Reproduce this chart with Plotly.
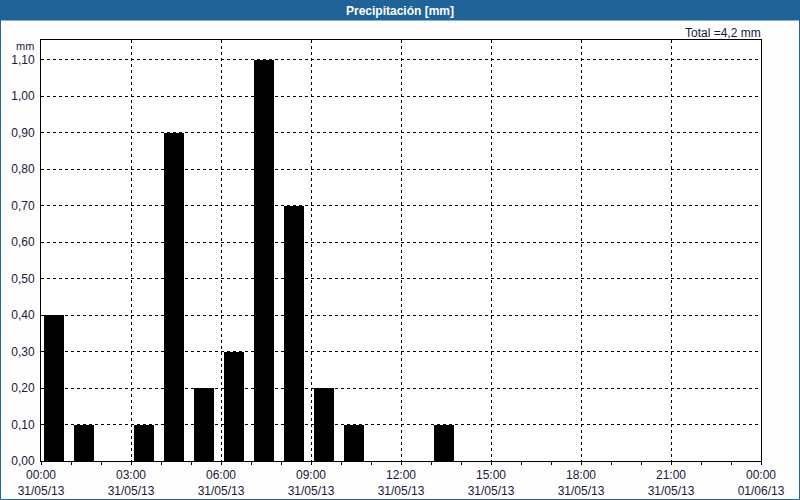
import plotly.graph_objects as go

# Data
hours = [0, 1, 3, 4, 5, 6, 7, 8, 9, 10, 13]
precip = [0.4, 0.1, 0.1, 0.9, 0.2, 0.3, 1.1, 0.7, 0.2, 0.1, 0.1]
x_tick_vals = [0, 3, 6, 9, 12, 15, 18, 21, 24]
x_tick_text = ["00:00<br>31/05/13", "03:00<br>31/05/13", "06:00<br>31/05/13",
               "09:00<br>31/05/13", "12:00<br>31/05/13", "15:00<br>31/05/13",
               "18:00<br>31/05/13", "21:00<br>31/05/13", "00:00<br>01/06/13"]
y_tick_vals = [0.0, 0.1, 0.2, 0.3, 0.4, 0.5, 0.6, 0.7, 0.8, 0.9, 1.0, 1.1]
y_tick_text = ["0,00", "0,10", "0,20", "0,30", "0,40", "0,50", "0,60",
               "0,70", "0,80", "0,90", "1,00", "1,10"]
title_text = "Precipitación [mm]"
total_text = "Total =4,2 mm"

W, H = 800, 500
ML, MR, MT, MB = 41, 39, 40, 39
PW, PH = W - ML - MR, H - MT - MB
BLUE = "#1f6399"
TXT = "#1a1a3a"
FONT = "Liberation Sans, Arial, sans-serif"

def px(x):
    return (x - ML) / PW

def py(y):
    return (H - MB - y) / PH

fig = go.Figure()
fig.add_trace(go.Bar(
    x=hours, y=precip, width=0.667, offset=0.085,
    marker=dict(color="black", line=dict(width=0)),
    hoverinfo="x+y",
))

fig.update_layout(
    width=W, height=H,
    margin=dict(l=ML, r=MR, t=MT, b=MB, autoexpand=False),
    paper_bgcolor="#fdfdfd",
    plot_bgcolor="white",
    showlegend=False,
    bargap=0,
    font=dict(family=FONT, size=11, color=TXT),
    xaxis=dict(
        range=[0, 24], tickvals=x_tick_vals, ticktext=x_tick_text,
        showgrid=True, gridcolor="black", griddash="3px,3px", gridwidth=1,
        showline=True, linecolor="black", linewidth=1, mirror=True,
        ticks="outside", ticklen=3, tickcolor="black",
        minor=dict(dtick=1, tick0=0, ticks="outside", ticklen=3,
                   tickcolor="black", showgrid=False),
        zeroline=False, fixedrange=True, automargin=False,
        tickfont=dict(family=FONT, size=12, color=TXT),
    ),
    yaxis=dict(
        range=[0, 1.1536], tickvals=y_tick_vals, ticktext=y_tick_text,
        showgrid=True, gridcolor="black", griddash="3px,3px", gridwidth=1,
        showline=True, linecolor="black", linewidth=1, mirror=True,
        ticks="", ticklabelstandoff=3,
        zeroline=False, fixedrange=True, automargin=False,
        tickfont=dict(family=FONT, size=12, color=TXT),
    ),
    shapes=[
        # outer blue border
        dict(type="rect", xref="paper", yref="paper",
             x0=px(0.5), x1=px(W - 0.5), y0=py(H - 0.5), y1=py(0.5),
             line=dict(color=BLUE, width=1), fillcolor="rgba(0,0,0,0)", layer="below"),
        # title bar
        dict(type="rect", xref="paper", yref="paper",
             x0=px(0), x1=px(W), y0=py(20.5), y1=py(0),
             line=dict(width=0), fillcolor=BLUE, layer="above"),
    ],
    annotations=[
        dict(text="<b>" + title_text + "</b>", xref="paper", yref="paper",
             x=px(400), y=py(10.5), xanchor="center", yanchor="middle",
             showarrow=False, font=dict(family=FONT, size=12, color="white")),
        dict(text=total_text, xref="paper", yref="paper",
             x=px(763), y=py(32.5), xanchor="right", yanchor="middle",
             showarrow=False, font=dict(family=FONT, size=12, color=TXT)),
        dict(text="mm", xref="paper", yref="paper",
             x=px(36), y=py(46), xanchor="right", yanchor="middle",
             showarrow=False, font=dict(family=FONT, size=11, color=TXT)),
    ],
)

fig.write_html("out.html")
